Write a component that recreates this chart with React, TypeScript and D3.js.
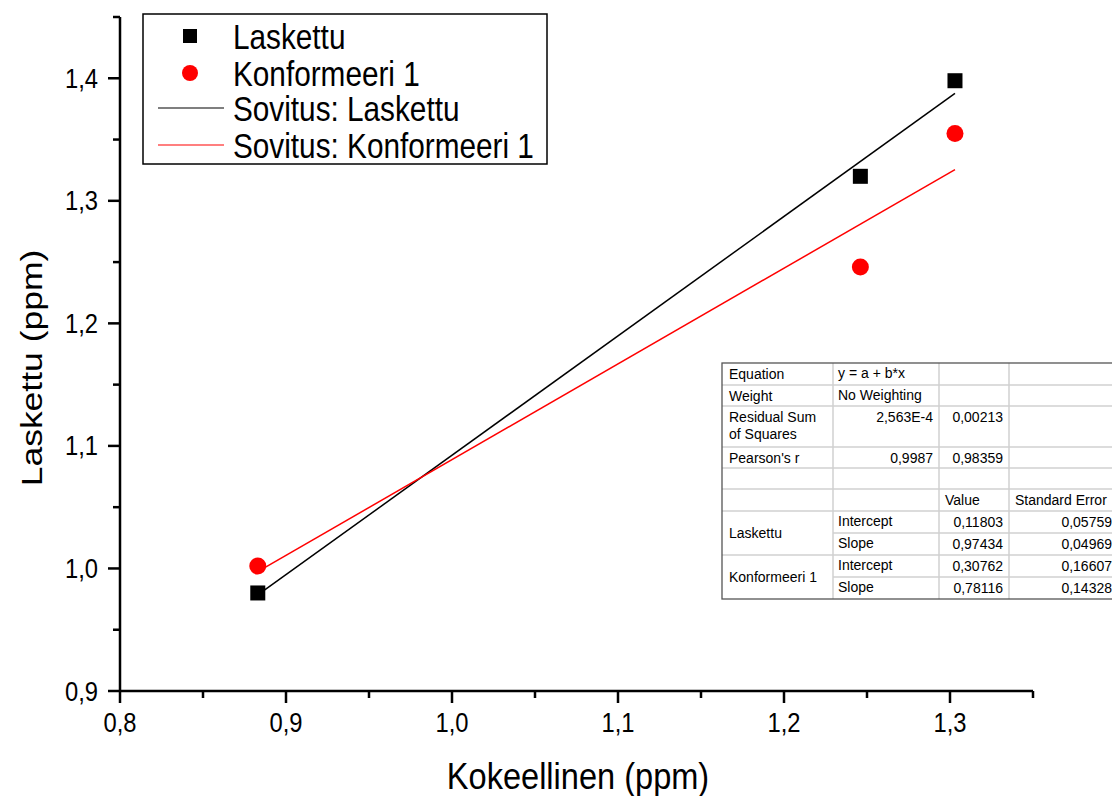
import React from "react";
import * as d3 from "d3";

const xValues = [0.883, 1.246, 1.303];
const laskettuValues = [0.98, 1.32, 1.398];
const konformeeriValues = [1.002, 1.246, 1.355];
const fitLaskettu = { intercept: 0.11803, slope: 0.97434 };
const fitKonformeeri = { intercept: 0.30762, slope: 0.78116 };
const xTicks = [0.8, 0.9, 1.0, 1.1, 1.2, 1.3];
const xMinorTicks = [0.85, 0.95, 1.05, 1.15, 1.25, 1.35];
const yTicks = [0.9, 1.0, 1.1, 1.2, 1.3, 1.4];
const yMinorTicks = [0.95, 1.05, 1.15, 1.25, 1.35, 1.45];
const legendLabels = ["Laskettu", "Konformeeri 1", "Sovitus: Laskettu", "Sovitus: Konformeeri 1"];

const tableRows: { cells: string[]; h: number }[] = [
  { cells: ["Equation", "y = a + b*x", "", ""], h: 22 },
  { cells: ["Weight", "No Weighting", "", ""], h: 21 },
  { cells: ["Residual Sum|of Squares", "2,563E-4", "0,00213", ""], h: 41 },
  { cells: ["Pearson's r", "0,9987", "0,98359", ""], h: 21 },
  { cells: ["", "", "", ""], h: 21 },
  { cells: ["", "", "Value", "Standard Error"], h: 22 },
  { cells: ["Laskettu", "Intercept", "0,11803", "0,05759"], h: 22 },
  { cells: ["", "Slope", "0,97434", "0,04969"], h: 22 },
  { cells: ["Konformeeri 1", "Intercept", "0,30762", "0,16607"], h: 22 },
  { cells: ["", "Slope", "0,78116", "0,14328"], h: 22 },
];

const FONT = "'Liberation Sans', Arial, sans-serif";
const SX = 0.85;

export default function App() {
  const x = d3.scaleLinear().domain([0.8, 1.35]).range([120, 1033]);
  const y = d3.scaleLinear().domain([0.9, 1.45]).range([691, 17]);
  const fmt = (v: number) => d3.format(".1f")(v).replace(".", ",");
  const xExt = d3.extent(xValues) as [number, number];
  const fitLine = (f: { intercept: number; slope: number }) =>
    d3.line<number>().x((v) => x(v)).y((v) => y(f.intercept + f.slope * v))(xExt) || "";

  const tx = 722;
  const ty = 363;
  const colX = [722, 833, 939, 1009, 1116];
  const rowY: number[] = [ty];
  tableRows.forEach((r) => rowY.push(rowY[rowY.length - 1] + r.h));
  const tBottom = rowY[rowY.length - 1];

  const legendY = [36, 73, 108, 145];

  return (
    <svg width={1112} height={796} style={{ position: "absolute", left: 0, top: 0, background: "#fff" }} fontFamily={FONT}>
      <rect width={1112} height={796} fill="#fff" />
      <line x1={120} x2={120} y1={y(1.45)} y2={691} stroke="#000" strokeWidth={2.5} />
      <line x1={120} x2={x(1.35)} y1={691} y2={691} stroke="#000" strokeWidth={2.5} />
      {yTicks.map((t) => (
        <g key={"yt" + t}>
          <line x1={108} x2={120} y1={y(t)} y2={y(t)} stroke="#000" strokeWidth={2.5} />
          <text transform={`translate(98,${y(t) + 9.5}) scale(0.88,1)`} textAnchor="end" fontSize={27}>
            {fmt(t)}
          </text>
        </g>
      ))}
      {yMinorTicks.map((t) => (
        <line key={"ym" + t} x1={113} x2={120} y1={y(t)} y2={y(t)} stroke="#000" strokeWidth={2.5} />
      ))}
      {xTicks.map((t) => (
        <g key={"xt" + t}>
          <line x1={x(t)} x2={x(t)} y1={691} y2={703} stroke="#000" strokeWidth={2.5} />
          <text transform={`translate(${x(t)},732) scale(0.88,1)`} textAnchor="middle" fontSize={27}>
            {fmt(t)}
          </text>
        </g>
      ))}
      {xMinorTicks.map((t) => (
        <line key={"xm" + t} x1={x(t)} x2={x(t)} y1={691} y2={698} stroke="#000" strokeWidth={2.5} />
      ))}
      <text transform={`translate(578,789) scale(0.88,1)`} textAnchor="middle" fontSize={37}>
        Kokeellinen (ppm)
      </text>
      <text transform={`translate(42,368) scale(0.82,1) rotate(-90)`} textAnchor="middle" fontSize={35.5}>
        Laskettu (ppm)
      </text>

      <path d={fitLine(fitLaskettu)} fill="none" stroke="#000" strokeWidth={1.5} />
      <path d={fitLine(fitKonformeeri)} fill="none" stroke="#ff0000" strokeWidth={1.5} />

      {xValues.map((v, i) => (
        <rect key={"s" + i} x={x(v) - 7.5} y={y(laskettuValues[i]) - 7.5} width={15} height={15} fill="#000" />
      ))}
      {xValues.map((v, i) => (
        <circle key={"c" + i} cx={x(v)} cy={y(konformeeriValues[i])} r={8.5} fill="#ff0000" />
      ))}

      <rect x={143} y={14} width={404} height={150} fill="#fff" stroke="#000" strokeWidth={1.5} />
      <rect x={183} y={legendY[0] - 7} width={14} height={14} fill="#000" />
      <circle cx={190} cy={legendY[1]} r={8} fill="#ff0000" />
      <line x1={158} x2={224} y1={legendY[2]} y2={legendY[2]} stroke="#000" strokeWidth={1.2} />
      <line x1={158} x2={224} y1={legendY[3]} y2={legendY[3]} stroke="#ff0000" strokeWidth={1.2} />
      {legendLabels.map((l, i) => (
        <text key={l} transform={`translate(233,${legendY[i] + 12.5}) scale(${SX},1)`} fontSize={35}>
          {l}
        </text>
      ))}

      <g fontSize={14}>
        <rect x={tx} y={ty} width={1116 - tx} height={tBottom - ty} fill="#fff" />
        {rowY.slice(1, -1).map((ry, i) => {
          const next = tableRows[i + 1];
          const firstEmptyCont = next && next.cells[0] === "" && i + 1 >= 7;
          return (
            <line key={"rl" + i} x1={firstEmptyCont ? colX[1] : tx} x2={1116} y1={ry} y2={ry} stroke="#d0d0d0" strokeWidth={1.5} />
          );
        })}
        {colX.slice(1, -1).map((cx, i) => (
          <line key={"cl" + i} x1={cx} x2={cx} y1={ty} y2={tBottom} stroke="#d0d0d0" strokeWidth={1.5} />
        ))}
        <rect x={tx} y={ty} width={1116 - tx} height={tBottom - ty} fill="none" stroke="#555" strokeWidth={1.3} />
        {tableRows.map((r, i) => {
          const top = rowY[i];
          const base = top + 16;
          const out: React.ReactNode[] = [];
          const c0 = r.cells[0];
          if (c0) {
            if (c0.includes("|")) {
              const [a, b] = c0.split("|");
              out.push(
                <text key="a" x={729} y={base}>{a}</text>,
                <text key="b" x={729} y={base + 17}>{b}</text>
              );
            } else if (i >= 6) {
              out.push(<text key="a" x={729} y={top + r.h + 5}>{c0}</text>);
            } else {
              out.push(<text key="a" x={729} y={base}>{c0}</text>);
            }
          }
          const c1 = r.cells[1];
          const c1Left = i < 2 || i >= 6;
          if (c1) out.push(<text key="b1" x={c1Left ? 838 : 933} y={c1Left ? top + 15 : base} textAnchor={c1Left ? "start" : "end"}>{c1}</text>);
          const c2 = r.cells[2];
          if (c2) out.push(<text key="c2" x={i === 5 ? 945 : 1003} y={base} textAnchor={i === 5 ? "start" : "end"}>{c2}</text>);
          const c3 = r.cells[3];
          if (c3) out.push(<text key="c3" x={i === 5 ? 1015 : 1112} y={base} textAnchor={i === 5 ? "start" : "end"}>{c3}</text>);
          return <g key={"tr" + i}>{out}</g>;
        })}
      </g>
    </svg>
  );
}
